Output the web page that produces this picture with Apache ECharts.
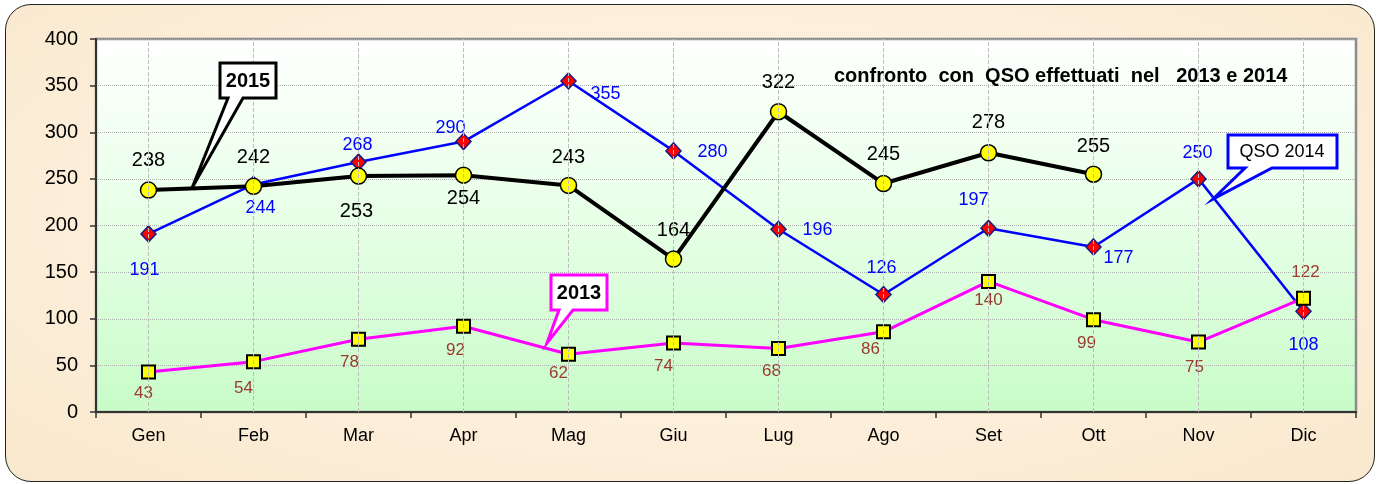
<!DOCTYPE html>
<html><head><meta charset="utf-8">
<script src="https://cdn.jsdelivr.net/npm/echarts@6/dist/echarts.min.js"></script>
<style>
html,body{margin:0;padding:0;background:#fff;}
#wrap{position:relative;width:1380px;height:484px;overflow:hidden;}
#frame{position:absolute;left:5px;top:4px;width:1368px;height:476px;border:1.5px solid #222;border-radius:26px;
background:radial-gradient(ellipse at 50% 45%, #fdf5e8 0%, #fcefdb 55%, #f9e8cd 100%);}
#c{position:absolute;left:0;top:0;width:1380px;height:484px;}
</style>
</head><body>
<div id="wrap"><div id="frame"></div><div id="c"></div></div>
<script>
// ---- data ----
const months = ['Gen','Feb','Mar','Apr','Mag','Giu','Lug','Ago','Set','Ott','Nov','Dic'];
const qso2015 = [238,242,253,254,243,164,322,245,278,255,null,null];
const qso2014 = [191,244,268,290,355,280,196,126,197,177,250,108];
const qso2013 = [43,54,78,92,62,74,68,86,140,99,75,122];
const yMin = 0, yMax = 400, yStep = 50;
const titleText = 'confronto  con  QSO effettuati  nel   2013 e 2014';

// ---- label offsets (pixels from point centre) ----
const off2015 = [[0,-30],[0,-29],[-2,35],[0,23],[0,-28],[0,-29],[0,-29],[0,-29],[0,-30],[0,-28],[0,0],[0,0]];
const off2014 = [[-4,36],[7,24],[-1,-17],[-13,-14],[37,13],[39,1],[39,1],[-2,-26],[-15,-28],[25,11],[-1,-26],[0,34]];
const off2013 = [[-5,21],[-10,27],[-9,23],[-8,24],[-10,19],[-10,23],[-7,23],[-13,18],[0,19],[-7,24],[-4,25],[2,-26]];

const FONT = 'Arial, "Liberation Sans", sans-serif';

function build(vals, offs){
  return vals.map((v,i)=> v==null ? null : {value:v, label:{offset:offs[i]}});
}

const chart = echarts.init(document.getElementById('c'), null, {renderer:'canvas'});
const option = {
  backgroundColor:'transparent',
  animation:false,
  title:{text:titleText,left:829,top:61,textStyle:{fontFamily:FONT,fontSize:20,fontWeight:'bold',color:'#000'}},
  grid:{left:96,right:24,top:39,bottom:72,show:true,borderColor:'#8c8c8c',borderWidth:2.5,
    backgroundColor:new echarts.graphic.LinearGradient(0,0,0,1,[{offset:0,color:'#ffffff'},{offset:0.5,color:'#e6ffe6'},{offset:1,color:'#c8fcc8'}])},
  xAxis:{type:'category',data:months,boundaryGap:true,
    axisLine:{lineStyle:{color:'#333',width:2}},
    axisTick:{show:true,length:6,lineStyle:{color:'#333',width:1.5}},
    axisLabel:{fontFamily:FONT,fontSize:18,color:'#000',margin:15},
    splitLine:{show:false}},
  yAxis:{type:'value',min:yMin,max:yMax,interval:yStep,
    axisLine:{show:true,lineStyle:{color:'#333',width:2}},
    axisTick:{show:true,length:6,lineStyle:{color:'#333',width:1.5}},
    axisLabel:{fontFamily:FONT,fontSize:20,color:'#000',margin:18},
    splitLine:{show:true,lineStyle:{color:'#b0b0b0',type:'dotted',width:1}}},
  series:[
    {name:'QSO 2014',type:'line',data:build(qso2014,off2014),z:2,
      symbol:'diamond',symbolSize:[15,16],
      lineStyle:{color:'#0000ff',width:2.5},
      itemStyle:{color:'#ff0000',borderColor:'#1a1a80',borderWidth:1.5},
      label:{show:true,position:'inside',fontFamily:FONT,fontSize:18,color:'#0000ff'},
      markLine:{silent:true,symbol:['none','none'],label:{show:false},
        lineStyle:{color:'#bdbdbd',type:'dashed',width:1},
        data:months.map(m=>({xAxis:m}))}
    },
    {name:'2015',type:'line',data:build(qso2015,off2015),z:3,
      symbol:'circle',symbolSize:16,connectNulls:false,
      lineStyle:{color:'#000',width:4},
      itemStyle:{color:'#ffff00',borderColor:'#000',borderWidth:1.5},
      label:{show:true,position:'inside',fontFamily:FONT,fontSize:20,color:'#000'}
    },
    {name:'2013',type:'line',data:build(qso2013,off2013),z:4,
      symbol:'rect',symbolSize:13,
      lineStyle:{color:'#ff00ff',width:3},
      itemStyle:{color:'#ffff00',borderColor:'#000',borderWidth:2},
      label:{show:true,position:'inside',fontFamily:FONT,fontSize:17,color:'#9b3a30'}
    }
  ],
  graphic:[
    {type:'polygon',z:100,shape:{points:[[220,63],[276,63],[276,98],[243,98],[192,188],[228,98],[220,98]]},
      style:{fill:'#fff',stroke:'#000',lineWidth:3}},
    {type:'text',z:101,x:248,y:81,style:{text:'2015',font:'bold 20px '+FONT,fill:'#000',align:'center',verticalAlign:'middle'}},
    {type:'polygon',z:100,shape:{points:[[551,275],[607,275],[607,310],[573,310],[547,343],[559,310],[551,310]]},
      style:{fill:'#fff',stroke:'#ff00ff',lineWidth:3}},
    {type:'text',z:101,x:579,y:293,style:{text:'2013',font:'bold 20px '+FONT,fill:'#000',align:'center',verticalAlign:'middle'}},
    {type:'polygon',z:100,shape:{points:[[1228,135],[1337,135],[1337,168],[1272,168],[1213,199],[1245,168],[1228,168]]},
      style:{fill:'#fff',stroke:'#0000ff',lineWidth:3}},
    {type:'text',z:101,x:1282,y:152,style:{text:'QSO 2014',font:'18px '+FONT,fill:'#000',align:'center',verticalAlign:'middle'}}
  ]
};
chart.setOption(option);
</script>
</body></html>
